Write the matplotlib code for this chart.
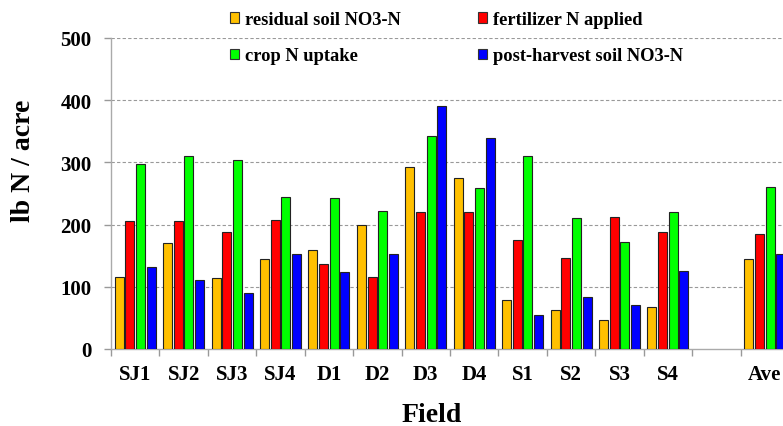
import matplotlib
matplotlib.use("Agg")
import matplotlib.pyplot as plt
import numpy as np
from matplotlib.patches import Patch

fields = ["SJ1", "SJ2", "SJ3", "SJ4", "D1", "D2", "D3", "D4", "S1", "S2", "S3", "S4", "", "Ave"]
residual = [116, 171, 114, 144, 159, 199, 292, 275, 78, 63, 46, 67, None, 144]
fertilizer = [205, 205, 188, 208, 136, 116, 220, 220, 175, 147, 213, 188, None, 185]
uptake = [298, 310, 304, 244, 242, 222, 342, 259, 310, 210, 172, 220, None, 261]
postharvest = [132, 111, 90, 152, 123, 153, 391, 340, 54, 84, 71, 126, None, 152]

series_names = ["residual soil NO3-N", "fertilizer N applied", "crop N uptake", "post-harvest soil NO3-N"]
series = [residual, fertilizer, uptake, postharvest]
colors = ["#FFC000", "#FF0000", "#00FF00", "#0000FF"]
yticks = [0, 100, 200, 300, 400, 500]

plt.rcParams['font.family'] = ['Liberation Serif', 'DejaVu Serif']
plt.rcParams['font.weight'] = 'bold'

fig = plt.figure(figsize=(7.83, 4.27), dpi=100)
ax = fig.add_axes([111/783, 77/427, 678/783, 311/427])

x = np.arange(len(fields))
slot = 0.22
bw = 0.186
for i, (vals, c) in enumerate(zip(series, colors)):
    xs = [xi + (i - 1.5) * slot for xi, v in zip(x, vals) if v is not None]
    vs = [v for v in vals if v is not None]
    ax.bar(xs, vs, width=bw, color=c, edgecolor="#222222", linewidth=0.8, zorder=3)

ax.set_xlim(-0.5, len(fields) - 0.5)
ax.set_ylim(0, 500)
ax.set_yticks(yticks)
ax.set_yticklabels([str(t) for t in yticks], fontsize=15, fontweight='bold')
ax.set_xticks(x)
ax.set_xticklabels(fields, fontsize=15, fontweight='bold')
ax.set_xticks(np.arange(-0.5, len(fields)), minor=True)
ax.tick_params(axis='x', which='major', length=0, pad=11)
ax.tick_params(axis='x', which='minor', length=5, color="#999999", width=1)
ax.tick_params(axis='y', which='major', length=5, color="#999999", width=1, pad=9)

for t in yticks[1:]:
    ax.axhline(t, color="#999999", linestyle=(0, (3, 2)), linewidth=0.8, zorder=1)

for s in ["top", "right"]:
    ax.spines[s].set_visible(False)
for s in ["left", "bottom"]:
    ax.spines[s].set_color("#AAAAAA")
    ax.spines[s].set_linewidth(1.0)

ax.set_ylabel("lb N / acre", fontsize=20, fontweight='bold')
ax.yaxis.set_label_coords(-(111 - 36) / 678, (350 - 161) / 311)
ax.set_xlabel("Field", fontsize=20, fontweight='bold')
ax.xaxis.set_label_coords((432 - 111) / 678, -0.17)

handles = [Patch(facecolor=c, edgecolor="#333333", linewidth=0.8) for c in colors]
order = [0, 2, 1, 3]
leg = fig.legend([handles[k] for k in order], [series_names[k] for k in order],
                 ncol=2, frameon=False, loc='upper left', bbox_to_anchor=(218/783, 1.0),
                 prop={'family': 'Liberation Serif', 'weight': 'bold', 'size': 13.3},
                 handlelength=0.5, handleheight=0.5, handletextpad=0.3,
                 labelspacing=1.05, columnspacing=4.2, borderaxespad=0.25)

fig.savefig("out.png", dpi=100)
